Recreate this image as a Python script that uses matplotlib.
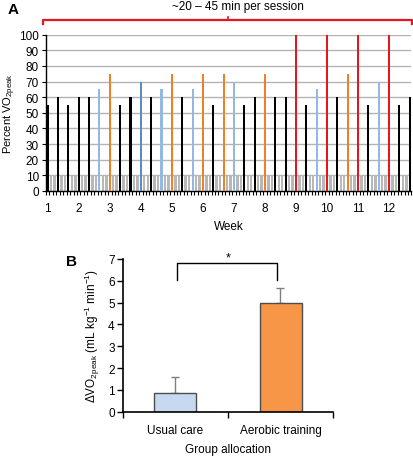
import matplotlib
matplotlib.use("Agg")
import matplotlib.pyplot as plt
import numpy as np
from matplotlib.lines import Line2D

plt.rcParams["font.family"] = ["Liberation Sans", "DejaVu Sans"]
plt.rcParams["font.size"] = 8

# Panel A: three sessions per week, two rest slots after each session
weeks = ["1", "2", "3", "4", "5", "6", "7", "8", "9", "10", "11", "12"]
session_pct = [55, 60, 55, 60, 60, 65, 75, 55, 60, 70, 60, 65,
               75, 60, 65, 75, 55, 75, 70, 55, 60, 75, 60, 60,
               100, 55, 65, 100, 60, 75, 100, 55, 70, 100, 55, 60]
session_kind = ["k", "k", "k", "k", "k", "lb", "o", "k", "k", "b", "k", "lb",
                "o", "k", "lb", "o", "k", "o", "lb", "k", "k", "o", "k", "k",
                "r", "k", "lb", "r", "k", "o", "r", "k", "lb", "r", "k", "k"]
rest_pct = 10

# Panel B
groups = ["Usual care", "Aerobic training"]
delta_vo2 = [0.87, 5.0]
delta_err = [0.7, 0.66]

kind_colors = {"k": "#000000", "lb": "#93B8E6", "b": "#5B8AC8",
               "o": "#F07F2A", "r": "#E5161C"}

fig = plt.figure(figsize=(4.14, 4.6), dpi=100)

# ---- Panel A ----
axA = fig.add_axes([46 / 414, 1 - 192 / 460, 365.5 / 414, 156.3 / 460])
n_cat = 3 * (len(session_pct) - 1) + 1
cats = np.arange(n_cat)
sess_x = cats[::3]
rest_x = np.array([c for c in cats if c % 3 != 0])

axA.bar(rest_x, [rest_pct] * len(rest_x), width=0.7, color="#B8B8B8", zorder=2)
axA.bar(sess_x, session_pct, width=0.6,
        color=[kind_colors[k] for k in session_kind], zorder=3)

axA.set_xlim(-0.5, n_cat - 0.5)
axA.set_ylim(0, 100)
axA.set_yticks(np.arange(0, 101, 10))
axA.yaxis.grid(True, color="#B3B3B3", lw=1)
axA.set_axisbelow(True)
axA.set_xticks(sess_x[::3])
axA.set_xticklabels(weeks, fontsize=8.5)
axA.set_xticks(np.arange(-0.5, n_cat, 1), minor=True)
axA.tick_params(axis="x", which="major", length=0, pad=8)
axA.tick_params(axis="x", which="minor", length=3, width=0.8, direction="out")
axA.tick_params(axis="y", length=3, width=0.8, labelsize=8.5, pad=2)
for s in ["top", "right"]:
    axA.spines[s].set_visible(False)
for s in ["left", "bottom"]:
    axA.spines[s].set_linewidth(1.0)
axA.set_xlabel("Week", fontsize=8.5, labelpad=4)
axA.set_ylabel("Percent VO$_\\mathregular{2peak}$", fontsize=8, labelpad=1)

# bracket above panel A
yb = 1 - 20.5 / 460
x0, x1, xm = 43 / 414, 412 / 414, 228 / 414
fig.add_artist(Line2D([x0, x0, x1, x1], [yb - 4 / 460, yb, yb, yb - 4 / 460],
                      transform=fig.transFigure, color="#E5161C", lw=1.6))
fig.add_artist(Line2D([xm, xm], [yb, yb + 3 / 460],
                      transform=fig.transFigure, color="#E5161C", lw=1.2))
fig.text(238 / 414, 1 - 7 / 460, "~20 \u2013 45 min per session",
         ha="center", va="center", fontsize=8.5)
fig.text(8 / 414, 1 - 10 / 460, "A", fontsize=11, fontweight="bold",
         ha="left", va="center")

# ---- Panel B ----
axB = fig.add_axes([123 / 414, 1 - 412.7 / 460, 210 / 414, 152.7 / 460])
xb = np.arange(len(groups))
axB.bar(xb, delta_vo2, width=0.4, color=["#C6D9F1", "#F79646"],
        edgecolor="#4D4D4D", lw=1.0, zorder=2)
axB.errorbar(xb, delta_vo2, yerr=[[0, 0], delta_err], fmt="none",
             ecolor="#7F7F7F", elinewidth=1.0, capsize=3, capthick=1.0, zorder=1)
axB.set_xlim(-0.5, 1.5)
axB.set_ylim(0, 7)
axB.set_yticks(range(0, 8))
axB.set_xticks(xb)
axB.set_xticklabels(groups, fontsize=8.5)
axB.set_xticks([-0.5, 0.5, 1.5], minor=True)
axB.tick_params(axis="x", which="major", length=0, pad=9)
axB.tick_params(axis="x", which="minor", length=4, width=1.0, direction="out")
axB.tick_params(axis="y", length=4, width=1.0, labelsize=8.5, pad=2)
for s in ["top", "right"]:
    axB.spines[s].set_visible(False)
for s in ["left", "bottom"]:
    axB.spines[s].set_linewidth(1.2)
axB.set_xlabel("Group allocation", fontsize=8.5, labelpad=5)
axB.set_ylabel("\u0394VO$_\\mathregular{2peak}$ (mL kg$^\\mathregular{-1}$ min$^\\mathregular{-1}$)",
               fontsize=8.5, labelpad=4)

# significance bracket
axB.plot([0.01, 0.01, 0.97, 0.97], [6.05, 6.8, 6.8, 6.05], color="black",
         lw=1.0, clip_on=False)
axB.text(0.5, 7.05, "*", ha="center", va="center", fontsize=9)
fig.text(66 / 414, 1 - 262 / 460, "B", fontsize=11, fontweight="bold",
         ha="left", va="center")

fig.savefig("out.png", dpi=100)
